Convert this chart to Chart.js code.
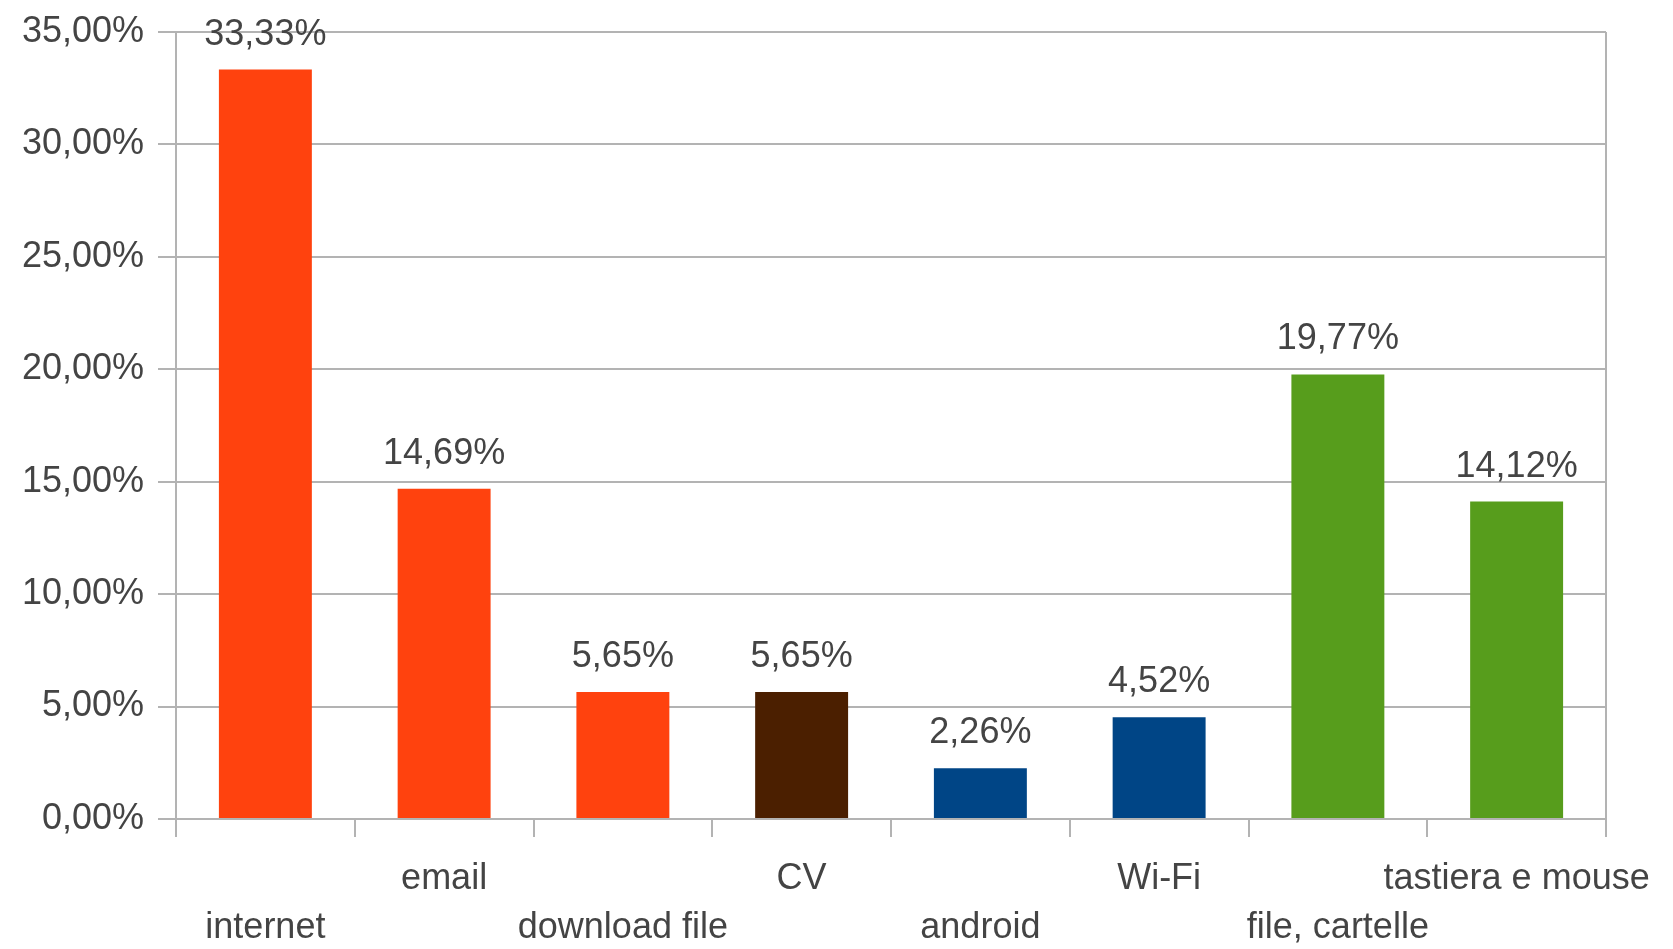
<!DOCTYPE html>
<html>
<head>
<meta charset="utf-8">
<script src="https://cdn.jsdelivr.net/npm/chart.js@4"></script>
<style>
    html, body { margin: 0; padding: 0; background: #fff; }
    #wrap { width: 1673px; height: 949px; }
</style>
</head>
<body>
<div id="wrap"><canvas id="chart"></canvas></div>
<script>
const categories = ['internet', 'email', 'download file', 'CV', 'android', 'Wi-Fi', 'file, cartelle', 'tastiera e mouse'];
const values = [33.33, 14.69, 5.65, 5.65, 2.26, 4.52, 19.77, 14.12];
const barColors = ['#ff420e', '#ff420e', '#ff420e', '#4b1f00', '#004586', '#004586', '#579d1c', '#579d1c'];
const yTicks = [0, 5, 10, 15, 20, 25, 30, 35];

const textColor = '#444444';
const gridColor = '#b3b3b3';
const fontFamily = '"Liberation Sans", Arial, sans-serif';
const fontSize = 36;

function pct(v) {
    return v.toFixed(2).replace('.', ',') + '%';
}

// labels alternate between two rows, like the original
const xLabels = categories.map((c, i) => i % 2 === 0 ? ['', c] : [c]);

const valueLabels = {
    id: 'valueLabels',
    afterDatasetsDraw(chart) {
        const ctx = chart.ctx;
        const meta = chart.getDatasetMeta(0);
        ctx.save();
        ctx.font = fontSize + 'px ' + fontFamily;
        ctx.fillStyle = textColor;
        ctx.textAlign = 'center';
        ctx.textBaseline = 'alphabetic';
        meta.data.forEach((bar, i) => {
            ctx.fillText(pct(values[i]), bar.x, bar.y - 25);
        });
        ctx.restore();
    }
};

const rightEdge = {
    id: 'rightEdge',
    beforeDatasetsDraw(chart) {
        const { ctx, chartArea } = chart;
        ctx.save();
        ctx.strokeStyle = gridColor;
        ctx.lineWidth = 2;
        ctx.beginPath();
        ctx.moveTo(chartArea.right, chartArea.top);
        ctx.lineTo(chartArea.right, chartArea.bottom);
        ctx.stroke();
        ctx.restore();
    }
};

new Chart(document.getElementById('chart'), {
    type: 'bar',
    data: {
        labels: xLabels,
        datasets: [{
            data: values,
            backgroundColor: barColors,
            borderWidth: 0,
            categoryPercentage: 1,
            barPercentage: 0.52
        }]
    },
    options: {
        responsive: true,
        maintainAspectRatio: false,
        animation: false,
        layout: { padding: { top: 32, right: 67, left: 0, bottom: 0 } },
        plugins: {
            legend: { display: false },
            tooltip: { enabled: false }
        },
        scales: {
            x: {
                offset: true,
                grid: {
                    offset: true,
                    drawOnChartArea: false,
                    drawTicks: true,
                    tickLength: 18,
                    color: gridColor,
                    lineWidth: 2
                },
                border: { color: gridColor, width: 2 },
                ticks: {
                    autoSkip: false,
                    maxRotation: 0,
                    minRotation: 0,
                    padding: 18,
                    color: textColor,
                    font: { family: fontFamily, size: fontSize, lineHeight: 1.36 }
                },
                afterFit(scale) { scale.height = 130; }
            },
            y: {
                min: 0,
                max: 35,
                afterBuildTicks(scale) {
                    scale.ticks = yTicks.map(v => ({ value: v }));
                },
                grid: {
                    color: gridColor,
                    lineWidth: 2,
                    tickLength: 18
                },
                border: { color: gridColor, width: 2 },
                ticks: {
                    padding: 14,
                    color: textColor,
                    font: { family: fontFamily, size: fontSize, lineHeight: 1 },
                    callback: v => pct(v)
                },
                afterFit(scale) { scale.width = 176; }
            }
        }
    },
    plugins: [valueLabels, rightEdge]
});
</script>
</body>
</html>
